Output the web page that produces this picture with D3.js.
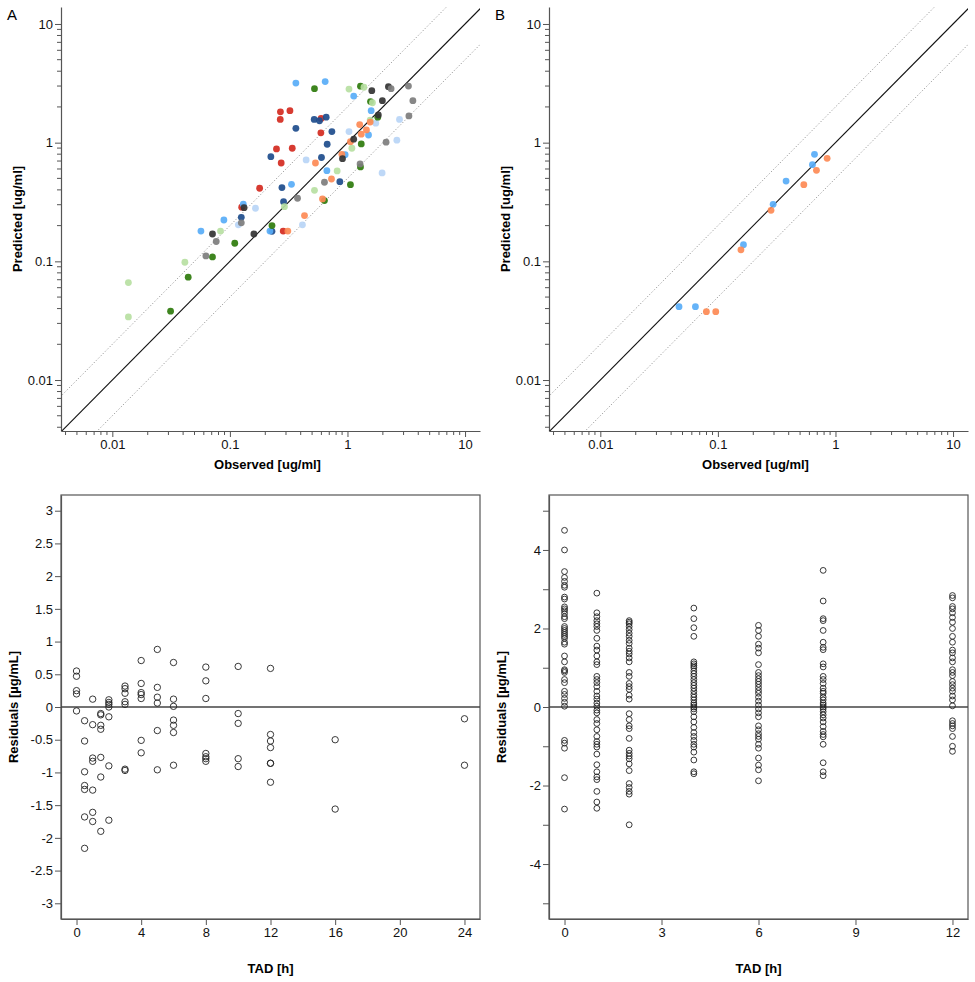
<!DOCTYPE html>
<html>
<head>
<meta charset="utf-8">
<script src="https://cdn.jsdelivr.net/npm/d3@7"></script>
<style>
html,body{margin:0;padding:0;background:#fff;}
svg{display:block;font-family:"Liberation Sans",Arial,sans-serif;}
</style>
</head>
<body>
<svg id="chart" width="975" height="982"></svg>
<script>
// ---------------- DATA ----------------
// Panel A: observed vs predicted per subject
const subjectsA = ["S1","S2","S3","S4","S5","S6","S7","S8","S9"];
const obsA = [
  [0.269,0.324,0.268,0.597,0.594,0.249,0.339,0.273,0.179,0.126,0.284],
  [0.364,0.521,0.578,0.659,0.737,0.672,0.601,0.223,0.277,0.861,0.286,0.125,0.228],
  [0.364,0.646,1.13,1.59,1.51,0.955,0.668,0.334,0.130,0.0889,0.0567,0.219],
  [1.74,2.77,2.63,1.97,1.03,0.445,0.165,0.118,0.414],
  [0.524,1.29,1.57,1.81,1.31,1.29,1.06,0.637,0.228,0.110,0.0711,0.0442,0.0313],
  [1.03,1.38,1.63,1.56,1.09,0.817,0.524,0.291,0.0832,0.0414,0.0137,0.0137],
  [1.27,1.45,1.31,1.56,1.06,0.896,0.534,0.731,0.613,0.431,0.311],
  [1.61,2.23,1.98,1.83,1.13,0.907,0.132,0.0711,0.160],
  [2.35,3.30,3.60,3.33,2.13,1.28,0.637,0.376,0.125,0.0765,0.0625]
];
const predA = [
  [1.82,1.86,1.57,1.60,1.21,0.885,0.897,0.674,0.413,0.286,0.180],
  [1.32,1.57,1.53,1.64,1.24,0.97,0.750,0.762,0.418,0.469,0.318,0.235,0.179],
  [3.18,3.27,2.47,1.86,1.16,0.792,0.581,0.446,0.303,0.223,0.180,0.180],
  [1.46,1.57,1.05,0.556,1.24,0.715,0.280,0.203,0.203],
  [2.85,2.99,2.22,1.64,0.975,0.624,0.443,0.325,0.200,0.142,0.109,0.0735,0.0380],
  [2.83,2.93,2.17,1.55,0.897,0.578,0.397,0.289,0.180,0.0983,0.0662,0.0340],
  [1.42,1.28,1.18,1.49,1.02,0.798,0.674,0.494,0.336,0.243,0.180],
  [2.74,2.96,2.26,1.71,1.07,0.733,0.283,0.170,0.170],
  [2.85,3.00,2.26,1.68,1.01,0.662,0.464,0.340,0.211,0.147,0.111]
];
// Panel B
const subjectsB = ["S3","S7"];
const obsB = [
  [0.0467,0.0644,0.165,0.295,0.380,0.637,0.663],
  [0.0798,0.0959,0.157,0.283,0.538,0.689,0.849]
];
const predB = [
  [0.0415,0.0415,0.138,0.302,0.475,0.653,0.797],
  [0.0377,0.0377,0.125,0.269,0.443,0.585,0.738]
];
const logTicks = [0.01, 0.1, 1, 10];
const logTickLabels = ["0.01", "0.1", "1", "10"];

// Panel C: residuals vs time after dose
const tadC = [0,0.5,1,1.5,2,3,4,5,6,8,10,12,16,24];
const resC = [
  [0.55,0.47,0.25,0.20,-0.06],
  [-0.21,-0.52,-0.99,-1.20,-1.26,-1.68,-2.16],
  [0.12,-0.27,-0.78,-0.83,-1.27,-1.61,-1.75],
  [-0.10,-0.12,-0.28,-0.34,-0.77,-1.07,-1.90],
  [0.11,0.07,0.04,0.0,-0.15,-0.90,-1.73],
  [0.32,0.28,0.21,0.08,0.04,-0.95,-0.97],
  [0.71,0.36,0.22,0.19,0.13,-0.51,-0.70],
  [0.88,0.30,0.15,0.06,-0.36,-0.96],
  [0.68,0.12,0.01,-0.20,-0.28,-0.39,-0.89],
  [0.61,0.40,0.13,-0.71,-0.76,-0.79,-0.83],
  [0.62,-0.10,-0.25,-0.79,-0.91],
  [0.59,-0.42,-0.52,-0.62,-0.86,-0.86,-1.15],
  [-0.50,-1.56],
  [-0.18,-0.89]
];
const xTicksC = [0,4,8,12,16,20,24];
const yTicksC = [-3,-2.5,-2,-1.5,-1,-0.5,0,0.5,1,1.5,2,2.5,3];

// Panel D
const tadD = [0,1,2,4,6,8,12];
const resD = [
  [4.5,4.0,3.45,3.3,3.2,3.1,3.05,2.8,2.75,2.55,2.5,2.45,2.38,2.3,2.25,2.05,2.0,1.95,1.9,1.85,1.8,1.75,1.65,1.6,1.3,1.15,0.95,0.92,0.88,0.7,0.62,0.4,0.32,0.22,0.12,0.02,-0.85,-0.92,-1.05,-1.8,-2.6],
  [2.9,2.4,2.3,2.2,2.12,2.05,1.95,1.75,1.55,1.45,1.3,1.15,1.08,0.78,0.7,0.62,0.52,0.4,0.28,0.2,0.1,0.02,-0.08,-0.15,-0.32,-0.42,-0.58,-0.75,-0.88,-0.95,-1.02,-1.2,-1.47,-1.65,-1.78,-1.85,-2.15,-2.42,-2.58],
  [2.2,2.16,2.12,2.05,1.97,1.88,1.8,1.7,1.62,1.5,1.42,1.35,1.25,1.15,0.88,0.78,0.6,0.52,0.45,0.3,0.2,-0.17,-0.32,-0.48,-0.55,-0.8,-1.1,-1.18,-1.25,-1.32,-1.45,-1.62,-1.95,-2.05,-2.15,-2.22,-3.0],
  [2.52,2.25,2.02,1.8,1.15,1.1,1.05,1.0,0.92,0.85,0.78,0.7,0.62,0.55,0.48,0.4,0.32,0.25,0.18,0.1,0.05,0.0,-0.05,-0.12,-0.25,-0.38,-0.52,-0.65,-0.75,-0.85,-0.95,-1.02,-1.15,-1.35,-1.65,-1.7],
  [2.08,1.95,1.8,1.6,1.5,1.38,1.08,0.88,0.8,0.72,0.65,0.58,0.5,0.42,0.35,0.25,0.15,0.05,-0.05,-0.15,-0.25,-0.48,-0.58,-0.68,-0.75,-0.82,-0.95,-1.05,-1.3,-1.48,-1.6,-1.88],
  [3.48,2.7,2.25,2.2,1.95,1.65,1.52,1.46,1.1,1.02,0.78,0.7,0.6,0.48,0.4,0.35,0.25,0.18,0.1,0.05,0.0,-0.05,-0.12,-0.2,-0.28,-0.38,-0.5,-0.62,-0.7,-0.76,-0.95,-1.42,-1.65,-1.75],
  [2.84,2.78,2.56,2.5,2.4,2.28,2.16,2.0,1.8,1.65,1.45,1.38,1.25,1.15,0.95,0.88,0.8,0.65,0.57,0.48,0.4,0.28,0.18,0.03,-0.35,-0.42,-0.48,-0.55,-0.75,-1.0,-1.13]
];
const xTicksD = [0,3,6,9,12];
const yTicksD = [-5,-4,-3,-2,-1,0,1,2,3,4,5];
const yLabelsD = [-4,-2,0,2,4];

// ---------------- STYLE ----------------
const subjectColor = {
  S1:"#d42a1f", S2:"#1d4c8c", S3:"#58acf7", S4:"#b9d5f6", S5:"#2e7b0c",
  S6:"#b7e0a2", S7:"#fd8a55", S8:"#333333", S9:"#7d7d7d"
};
const axisColor = "#555";
const svg = d3.select("#chart");

function styleAxis(g){
  g.selectAll(".domain").attr("stroke", axisColor).attr("stroke-width", 1.2);
  g.selectAll(".tick line").attr("stroke", axisColor);
  g.selectAll(".tick text").attr("fill", "#111").attr("font-size", 13)
    .attr("font-family", "\"Liberation Sans\",Arial,sans-serif");
}

// ---------------- LOG PANELS ----------------
function logPanel(ox, letter, subjects, obs, pred){
  const left = 61 + ox, right = 480 + ox, top = 7, bottom = 431;
  const x = d3.scaleLog().domain([0.00366, 13.4]).range([left, right]);
  const y = d3.scaleLog().domain([0.00372, 13.9]).range([bottom, top]);
  const g = svg.append("g");
  const clipId = "clip" + letter;
  svg.append("clipPath").attr("id", clipId).append("rect")
    .attr("x", left).attr("y", top).attr("width", right-left).attr("height", bottom-top);

  // minor ticks
  const minor = [];
  for (let e = -3; e <= 1; e++) for (let m = 1; m <= 9; m++) minor.push(m*Math.pow(10,e));
  const xMinor = minor.filter(v => v >= x.domain()[0] && v <= x.domain()[1] && !logTicks.includes(+v.toPrecision(3)));
  const yMinor = minor.filter(v => v >= y.domain()[0] && v <= y.domain()[1] && !logTicks.includes(+v.toPrecision(3)));

  const xa = g.append("g").attr("transform", `translate(0,${bottom})`)
    .call(d3.axisBottom(x).tickValues(logTicks).tickFormat((d,i)=>logTickLabels[i]).tickSize(6).tickSizeOuter(0).tickPadding(3));
  xa.append("g").selectAll("line").data(xMinor).join("line")
    .attr("x1", d=>x(d)).attr("x2", d=>x(d)).attr("y1", 0).attr("y2", 4).attr("stroke", axisColor);
  styleAxis(xa);
  const ya = g.append("g").attr("transform", `translate(${left},0)`)
    .call(d3.axisLeft(y).tickValues(logTicks).tickFormat((d,i)=>logTickLabels[i]).tickSize(6).tickSizeOuter(0).tickPadding(2));
  ya.append("g").selectAll("line").data(yMinor).join("line")
    .attr("y1", d=>y(d)).attr("y2", d=>y(d)).attr("x1", 0).attr("x2", -4).attr("stroke", axisColor);
  styleAxis(ya);

  // reference lines
  const lo = 0.001, hi = 100;
  const lines = g.append("g").attr("clip-path", `url(#${clipId})`);
  [[0.5,"dot"],[2,"dot"],[1,"solid"]].forEach(([f,t]) => {
    lines.append("line")
      .attr("x1", x(lo)).attr("y1", y(lo*f)).attr("x2", x(hi)).attr("y2", y(hi*f))
      .attr("stroke", t==="solid" ? "#111" : "#999")
      .attr("stroke-width", t==="solid" ? 1.1 : 1)
      .attr("stroke-dasharray", t==="solid" ? null : "1.2,2");
  });

  // points
  const pts = [];
  subjects.forEach((s,i) => obs[i].forEach((o,j) => pts.push({s, o, p: pred[i][j]})));
  lines.append("g").selectAll("circle").data(pts).join("circle")
    .attr("cx", d=>x(d.o)).attr("cy", d=>y(d.p)).attr("r", 3.4)
    .attr("fill", d=>subjectColor[d.s]).attr("fill-opacity", 0.92);

  // labels
  g.append("text").attr("x", (left+right)/2 - 3).attr("y", 469).attr("text-anchor","middle")
    .attr("font-weight","bold").attr("font-size",13).text("Observed [ug/ml]");
  g.append("text").attr("transform", `translate(${ox+22},219) rotate(-90)`).attr("text-anchor","middle")
    .attr("font-weight","bold").attr("font-size",13).text("Predicted [ug/ml]");
  g.append("text").attr("x", ox+7).attr("y", 20).attr("font-size",15).text(letter);
}
logPanel(0, "A", subjectsA, obsA, predA);
logPanel(488, "B", subjectsB, obsB, predB);

// ---------------- RESIDUAL PANELS ----------------
function resPanel(ox, xDom, yDom, xTicks, yTicks, yLabelSet, tads, res, r){
  const left = 61 + ox, right = 480 + ox, top = 495, bottom = 919;
  const x = d3.scaleLinear().domain(xDom).range([left, right]);
  const y = d3.scaleLinear().domain(yDom).range([bottom, top]);
  const g = svg.append("g");
  const xa = g.append("g").attr("transform", `translate(0,${bottom})`)
    .call(d3.axisBottom(x).tickValues(xTicks).tickFormat(d=>String(d)).tickSize(6).tickSizeOuter(0).tickPadding(3));
  styleAxis(xa);
  const ya = g.append("g").attr("transform", `translate(${left},0)`)
    .call(d3.axisLeft(y).tickValues(yTicks).tickFormat(d=> yLabelSet.includes(d) ? String(d) : "").tickSize(6).tickSizeOuter(0).tickPadding(2));
  styleAxis(ya);
  g.append("rect").attr("x", left).attr("y", top).attr("width", right-left).attr("height", bottom-top)
    .attr("fill","none").attr("stroke", axisColor).attr("stroke-width",1.2);
  g.append("line").attr("x1", left).attr("x2", right).attr("y1", y(0)).attr("y2", y(0))
    .attr("stroke", "#444").attr("stroke-width", 1.3);
  const pts = [];
  tads.forEach((t,i) => res[i].forEach(v => pts.push({t, v})));
  g.append("g").selectAll("circle").data(pts).join("circle")
    .attr("cx", d=>x(d.t)).attr("cy", d=>y(d.v)).attr("r", r)
    .attr("fill","none").attr("stroke","#222").attr("stroke-width",0.9);
  g.append("text").attr("x", (left+right)/2).attr("y", 973).attr("text-anchor","middle")
    .attr("font-weight","bold").attr("font-size",13).text("TAD [h]");
  g.append("text").attr("transform", `translate(${ox+18},707) rotate(-90)`).attr("text-anchor","middle")
    .attr("font-weight","bold").attr("font-size",13).text("Residuals [µg/mL]");
}
resPanel(0, [-0.96, 24.96], [-3.24, 3.24], xTicksC, yTicksC, yTicksC, tadC, resC, 3.2);
resPanel(488, [-0.48, 12.48], [-5.4, 5.4], xTicksD, yTicksD, yLabelsD, tadD, resD, 2.9);
</script>
</body>
</html>
